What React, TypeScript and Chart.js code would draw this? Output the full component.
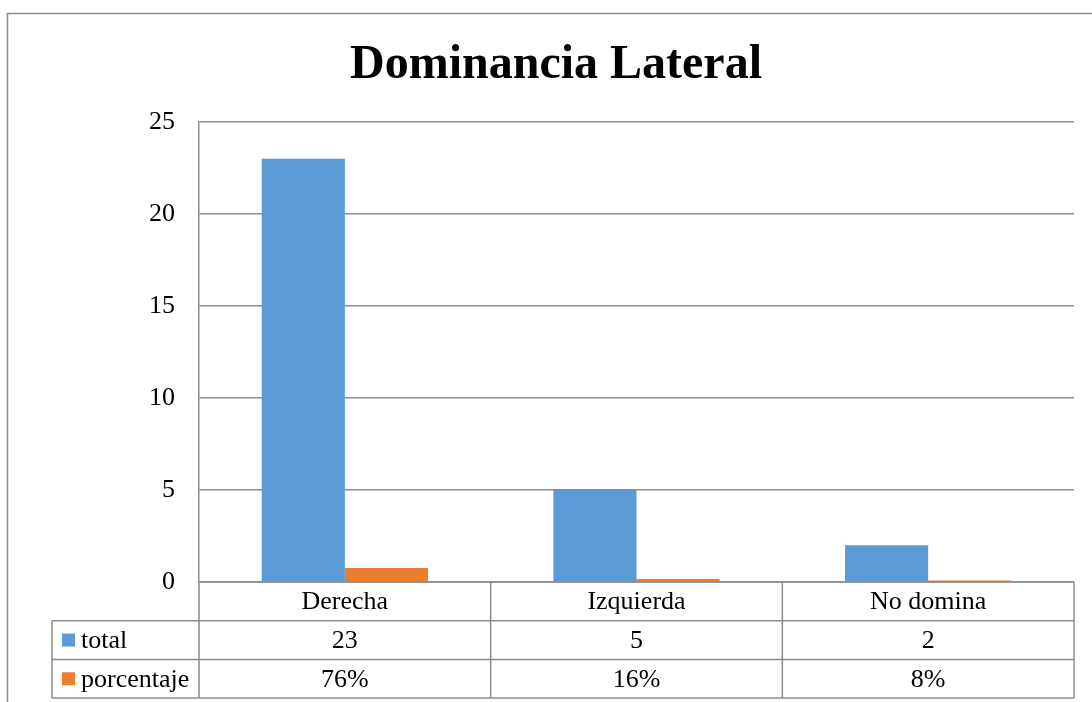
import React, { useEffect, useRef } from "react";
import { Chart, registerables } from "chart.js";

Chart.register(...registerables);

const title = "Dominancia Lateral";
const categories = ["Derecha", "Izquierda", "No domina"];
const totalValues = [23, 5, 2];
const percentValues = [0.76, 0.16, 0.08];
const percentLabels = ["76%", "16%", "8%"];
const seriesNames = ["total", "porcentaje"];
const yTicks = [0, 5, 10, 15, 20, 25];

const BLUE = "#5B9BD5";
const ORANGE = "#ED7D31";
const LINE = "#8C8C8C";
const FONT = "'Liberation Serif', 'Times New Roman', serif";

const tablePlugin = {
  id: "tablePlugin",
  afterDraw(chart: any) {
    const ctx = chart.ctx;
    const area = chart.chartArea;
    const xs = chart.scales.x;
    const n = categories.length;
    const step = (xs.getPixelForValue(1) - xs.getPixelForValue(0));
    const bounds: number[] = [];
    for (let i = 0; i <= n; i++) {
      bounds.push(i < n ? xs.getPixelForValue(i) - step / 2 : xs.getPixelForValue(n - 1) + step / 2);
    }
    const rowH = 38.7;
    const r0 = area.bottom;
    const r1 = r0 + rowH;
    const r2 = r1 + rowH;
    const r3 = r2 + rowH;
    const legendLeft = 52;

    ctx.save();
    // outer frame
    ctx.strokeStyle = LINE;
    ctx.lineWidth = 1.5;
    ctx.beginPath();
    ctx.moveTo(7.5, 720);
    ctx.lineTo(7.5, 13.5);
    ctx.lineTo(1100, 13.5);
    ctx.stroke();

    ctx.lineWidth = 1.5;
    ctx.strokeStyle = LINE;
    ctx.beginPath();
    // horizontal lines
    ctx.moveTo(bounds[0], r0); ctx.lineTo(bounds[n], r0);
    ctx.moveTo(legendLeft, r1); ctx.lineTo(bounds[n], r1);
    ctx.moveTo(legendLeft, r2); ctx.lineTo(bounds[n], r2);
    ctx.moveTo(legendLeft, r3); ctx.lineTo(bounds[n], r3);
    // vertical lines
    for (let i = 0; i <= n; i++) {
      ctx.moveTo(bounds[i], r0); ctx.lineTo(bounds[i], r3);
    }
    ctx.moveTo(legendLeft, r1); ctx.lineTo(legendLeft, r3);
    ctx.stroke();

    ctx.fillStyle = "#000";
    ctx.font = "26px " + FONT;
    ctx.textBaseline = "middle";
    ctx.textAlign = "center";
    for (let i = 0; i < n; i++) {
      const cx = (bounds[i] + bounds[i + 1]) / 2;
      ctx.fillText(categories[i], cx, (r0 + r1) / 2 + 1);
      ctx.fillText(String(totalValues[i]), cx, (r1 + r2) / 2 + 1);
      ctx.fillText(percentLabels[i], cx, (r2 + r3) / 2 + 1);
    }
    // legend keys
    const colors = [BLUE, ORANGE];
    const rows = [r1, r2];
    ctx.textAlign = "left";
    for (let k = 0; k < 2; k++) {
      const mid = (rows[k] + rows[k] + rowH) / 2;
      ctx.fillStyle = colors[k];
      ctx.fillRect(62, mid - 6.5, 13, 13);
      ctx.fillStyle = "#000";
      ctx.fillText(seriesNames[k], 81, mid + 1);
    }

    // title
    ctx.font = "bold 48px " + FONT;
    ctx.textAlign = "center";
    ctx.textBaseline = "alphabetic";
    ctx.fillText(title, 556, 78);
    ctx.restore();
  },
};

export default function App() {
  const ref = useRef<HTMLCanvasElement>(null);
  useEffect(() => {
    document.body.style.margin = "0";
    const chart = new Chart(ref.current!, {
      type: "bar",
      data: {
        labels: categories,
        datasets: [
          { label: seriesNames[0], data: totalValues, backgroundColor: BLUE, barPercentage: 1, categoryPercentage: 0.57 },
          { label: seriesNames[1], data: percentValues, backgroundColor: ORANGE, barPercentage: 1, categoryPercentage: 0.57 },
        ],
      },
      options: {
        animation: false,
        responsive: false,
        layout: { padding: { top: 122, left: 0, right: 18, bottom: 120 } },
        plugins: { legend: { display: false }, title: { display: false }, tooltip: { enabled: false } },
        scales: {
          x: { display: false },
          y: {
            min: 0,
            max: 25,
            afterFit: (s: any) => { s.width = 199; },
            afterBuildTicks: (s: any) => { s.ticks = yTicks.map((v) => ({ value: v })); },
            ticks: { color: "#000", padding: 24, font: { family: FONT, size: 26 } },
            grid: { color: LINE, lineWidth: 1.5, drawTicks: false },
            border: { display: true, color: LINE, width: 1.5 },
          },
        },
      },
      plugins: [tablePlugin],
    });
    return () => chart.destroy();
  }, []);
  return (
    <div style={{ position: "absolute", left: 0, top: 0, width: 1092, height: 702 }}>
      <canvas ref={ref} width={1092} height={702} />
    </div>
  );
}
